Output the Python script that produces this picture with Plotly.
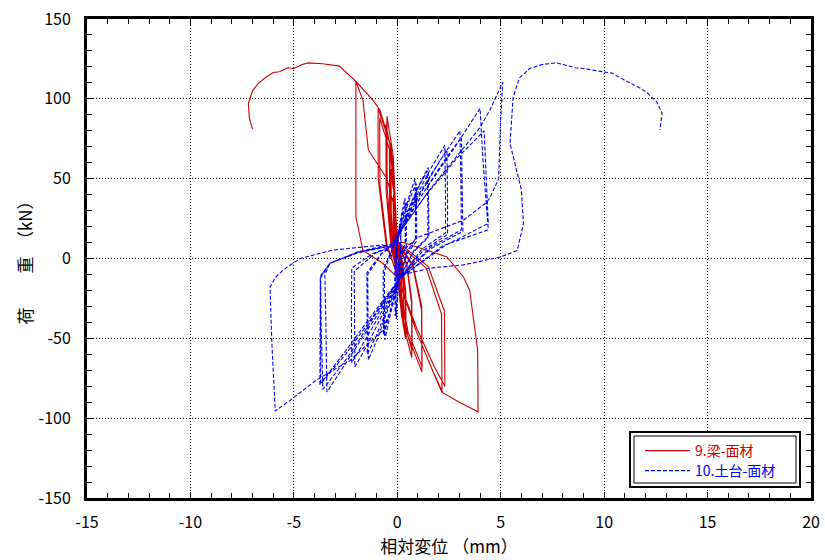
import plotly.graph_objects as go

# ---- 9.梁-面材 (red) : load-displacement hysteresis points ----
red_x = [
    0.0,
    0.0, -0.04, -0.08, -0.07, -0.03, 0.03, 0.08, 0.12, 0.11, 0.06, 0.0,
    -0.04, -0.09, -0.08, -0.03, 0.04, 0.09, 0.13, 0.12, 0.06, 0.0,
    -0.03, -0.07, -0.12, -0.11, -0.06, 0.03, 0.1, 0.2, 0.19, 0.12, 0.02,
    -0.03, -0.08, -0.13, -0.12, -0.06, 0.04, 0.11, 0.21, 0.2, 0.12, 0.01,
    -0.03, -0.1, -0.18, -0.17, -0.1, 0.03, 0.14, 0.3, 0.29, 0.18, 0.03,
    -0.03, -0.11, -0.2, -0.19, -0.11, 0.04, 0.15, 0.32, 0.31, 0.19, 0.02,
    -0.04, -0.13, -0.3, -0.29, -0.16, 0.04, 0.2, 0.4, 0.39, 0.24, 0.03,
    -0.04, -0.14, -0.32, -0.31, -0.17, 0.05, 0.21, 0.42, 0.41, 0.25, 0.02,
    -0.05, -0.15, -0.35, -0.34, -0.2, 0.05, 0.3, 0.7, 0.69, 0.45, 0.04,
    -0.05, -0.16, -0.38, -0.37, -0.21, 0.06, 0.32, 0.72, 0.7, 0.46, 0.03,
    -0.06, -0.2, -0.5, -0.49, -0.28, 0.06, 0.5, 1.19, 1.17, 0.75, 0.05,
    -0.06, -0.22, -0.55, -0.54, -0.3, 0.07, 0.52, 1.2, 1.18, 0.76, 0.04,
    -0.07, -0.3, -0.93, -0.92, -0.55, 0.08, 0.9, 1.7, 2.16, 2.14, 1.4, 0.05,
    -0.07, -0.32, -0.85, -0.84, -0.5, 0.08, 0.95, 1.8, 2.3, 2.28, 1.5, 0.05,
    -0.08, -0.3, -0.84, -1.17, -2.0, -2.0, -2.0, -1.66, -0.7, 0.1,
    0.9, 1.7, 2.2, 3.0, 3.9,
    3.9, 3.88, 3.5, 3.2, 2.4, 1.2, 0.3, 0.02,
    -0.1, -0.5, -1.0, -1.4, -1.66, -2.0, -2.8, -3.6, -4.3, -4.6,
    -5.0, -5.3, -5.7, -6.0, -6.3, -6.7, -7.0, -7.2, -7.15, -7.0,
]
red_y = [
    0,
    6, 12, 18, 9, 1, -8, -13, -17, -8, 0, 6,
    11, 17, 8, 0, -8, -12, -16, -7, 1, 7,
    12, 22, 28, 14, 3, -10, -20, -27, -13, -2, 7,
    12, 21, 27, 13, 2, -10, -19, -26, -12, -1, 8,
    15, 30, 40, 20, 4, -12, -28, -40, -18, -3, 8,
    14, 29, 38, 19, 3, -12, -27, -38, -17, -2, 9,
    18, 42, 56, 28, 5, -13, -35, -50, -22, -3, 9,
    17, 40, 53, 26, 4, -13, -34, -48, -21, -2, 10,
    22, 52, 72, 36, 6, -14, -42, -62, -28, -4, 9,
    21, 50, 68, 34, 5, -14, -40, -58, -26, -3, 10,
    25, 65, 89, 45, 8, -14, -48, -71, -32, -5, 9,
    24, 62, 84, 42, 7, -14, -46, -68, -30, -4, 10,
    26, 70, 94, 50, 10, -14, -45, -70, -84, -35, -6, 9,
    25, 66, 88, 46, 9, -14, -44, -68, -80, -33, -5, 10,
    26, 70, 93, 99, 111, 60, 26, 5, -3, -13,
    -45, -70, -84, -90, -96,
    -80, -57, -20, -11.6, 1, 6, 10, 10,
    30, 50, 60, 68, 99, 111, 120.5, 122, 122.5, 121.5,
    119, 119.5, 117, 116.5, 114, 110, 105, 97, 88, 81,
]

# ---- 10.土台-面材 (blue) ----
blue_x = [
    0.0,
    0.0, 0.07, 0.15, 0.16, 0.14, 0.08, 0.05, 0.0, -0.05, -0.06, -0.05, -0.03,
    0.07, 0.17, 0.18, 0.15, 0.08, 0.05, 0.0, -0.06, -0.07, -0.05, -0.02,
    0.0, 0.12, 0.26, 0.37, 0.39, 0.38, 0.2, 0.08, 0.04, 0.0, -0.05, -0.07, -0.07, -0.04, -0.05,
    0.0, 0.14, 0.3, 0.42, 0.44, 0.43, 0.22, 0.08, 0.02, -0.05, -0.1, -0.12, -0.12, -0.06, -0.05,
    0.0, 0.25, 0.6, 0.86, 0.88, 0.88, 0.45, 0.1, -0.15, -0.42, -0.6, -0.62, -0.62, -0.3, -0.08,
    0.0, 0.28, 0.62, 0.92, 0.94, 0.94, 0.48, 0.1, -0.18, -0.45, -0.66, -0.68, -0.68, -0.32, -0.1,
    0.05, 0.5, 1.05, 1.5, 1.53, 1.53, 0.8, 0.12, -0.4, -0.95, -1.4, -1.43, -1.43, -0.75, -0.15,
    0.05, 0.5, 1.0, 1.45, 1.48, 1.48, 0.78, 0.12, -0.45, -1.0, -1.45, -1.48, -1.47, -0.78, -0.15,
    0.1, 0.75, 1.6, 2.3, 2.33, 2.33, 1.2, 0.15, -0.6, -1.4, -2.05, -2.08, -2.08, -1.1, -0.2,
    0.1, 0.8, 1.7, 2.4, 2.43, 2.43, 1.25, 0.15, -0.65, -1.5, -2.2, -2.22, -2.2, -1.2, -0.2,
    0.1, 1.0, 2.1, 3.03, 3.08, 3.1, 1.6, 0.15, -1.0, -2.3, -3.4, -3.45, -3.5, -3.25, -1.95, -0.3,
    0.1, 1.05, 2.2, 3.1, 3.15, 3.17, 1.6, 0.15, -1.1, -2.5, -3.74, -3.74, -3.72, -3.6, -3.25, -1.95, -0.3,
    0.1, 1.3, 2.8, 4.0, 4.15, 4.3, 4.4, 2.2, 0.15, -1.1, -2.4, -3.6, -3.68, -3.7, -3.25, -1.9, -0.3,
    0.1, 1.4, 2.9, 4.2, 4.3, 4.4, 2.3, 0.15, -1.2, -2.5, -3.7, -3.72, -3.72, -3.25, -1.95, -0.3,
    0.1, 1.5, 3.0, 4.0, 4.48, 5.1, 5.0, 4.95, 4.9, 4.48, 4.3, 3.2, 0.95, 0.2,
    0.1, -0.2, -0.7, -2.3, -3.9, -5.2, -5.9, -6.07, -6.15, -5.9, -5.5, -4.7, -3.1, -0.7,
    0.1, 0.3, 1.6, 3.2, 5.0, 5.8, 6.1, 6.0, 5.45, 5.6, 5.9, 6.4, 7.0, 7.7,
    8.2, 8.6, 9.0, 9.5, 9.9, 10.4, 10.8, 11.2, 11.7, 12.06, 12.55, 12.8, 12.75, 12.7,
]
blue_y = [
    0,
    10, 16, 22, 12, 4, 0, -10, -16, -22, -12, -2, 6,
    14, 20, 11, 3, -1, -10, -15, -20, -10, -1, 7,
    12, 22, 31, 38, 22, 10, 2, -10, -20, -30, -38, -20, -6, 4, 9,
    12, 22, 30, 35, 20, 8, 1, -11, -22, -30, -36, -18, -5, 5, 10,
    13, 25, 40, 50, 28, 12, 4, -12, -25, -40, -51, -25, -8, 4, 10,
    13, 25, 38, 47, 26, 11, 3, -12, -24, -38, -48, -24, -7, 4, 10,
    14, 30, 46, 57, 32, 14, 5, -12, -30, -50, -63.5, -32, -10, 3, 9,
    14, 29, 44, 55, 30, 13, 4, -12, -30, -48, -60, -30, -9, 3, 9,
    15, 35, 56, 71, 40, 16, 6, -12, -32, -53, -68, -35, -8, 3, 8,
    15, 35, 54, 68, 38, 15, 5, -12, -31, -50, -65.4, -34, -6, 3, 8,
    15, 38, 62, 80, 45, 18, 7, -12, -36, -62, -83.6, -42, -10, -3, 3.4, 8,
    15, 37, 60, 76, 42, 17, 6, -12, -35, -60, -79, -40, -12, -9, -3, 3.4, 8,
    16, 42, 70, 94, 60, 35, 18, 8, -12, -36, -62, -82, -42, -12, -3, 4, 8,
    16, 40, 63, 80, 50, 22, 8, -12, -35, -58, -78, -40, -11, -3, 4, 9,
    16, 42, 66, 82, 93, 110.5, 88, 62, 50, 38, 35, 24, 13, 4,
    -12, -28, -45, -64, -76, -89, -95.5, -51, -18, -12, -7, 0, 5.3, 8.5,
    -4, -10, -6, -4, 1, 5, 22, 43, 72, 101, 113, 119, 121.5, 122.5,
    121, 119.5, 119, 118, 117, 116, 113, 110.5, 107, 104, 98, 91, 85, 80.5,
]

x_ticks = [-15, -10, -5, 0, 5, 10, 15, 20]
y_ticks = [-150, -100, -50, 0, 50, 100, 150]
red_name = "9.梁-面材"
blue_name = "10.土台-面材"
x_title = "相対変位 （mm）"
y_title = "荷　　重　（kN）"

RED = "#cc0000"
BLUE = "#0000ee"
FONT = "Noto Sans CJK JP"

# plot area in pixels
L, R, T, B = 87, 811, 19, 498
W, H = 825, 560


def px_x(p):
    return (p - L) / (R - L)


def px_y(p):
    return (B - p) / (B - T)


fig = go.Figure()
fig.add_trace(go.Scatter(
    x=red_x, y=red_y, mode="lines",
    name=f'<span style="color:{RED}">{red_name}</span>',
    line=dict(color=RED, width=1.1),
    legend="legend",
))
fig.add_trace(go.Scatter(
    x=blue_x, y=blue_y, mode="lines",
    name=f'<span style="color:{BLUE}">{blue_name}</span>',
    line=dict(color=BLUE, width=1.1, dash="4px,2px"),
    legend="legend2",
))

axis_common = dict(
    showgrid=True, gridcolor="black", gridwidth=1, griddash="1px,2px",
    zeroline=False, showline=True, linecolor="black", linewidth=3,
    mirror="allticks", ticks="inside", ticklen=6, tickcolor="black", tickwidth=1,
    tickfont=dict(family=FONT, size=16, color="black"),
    automargin=False,
)

legend_common = dict(xanchor="left", yanchor="top", bgcolor="rgba(0,0,0,0)", borderwidth=0,
                     font=dict(family=FONT, size=14), itemwidth=45)

fig.update_layout(
    width=W, height=H,
    margin=dict(l=L, r=W - R, t=T, b=H - B),
    plot_bgcolor="white", paper_bgcolor="white",
    font=dict(family=FONT, size=15, color="black"),
    xaxis=dict(range=[-15, 20], tickvals=x_ticks, ticktext=[str(v) for v in x_ticks],
               minor=dict(ticks="inside", dtick=1, tick0=-15, ticklen=5, tickcolor="black", showgrid=False),
               ticklabelstandoff=8,
               title=dict(text=x_title, font=dict(family=FONT, size=17), standoff=8),
               **axis_common),
    yaxis=dict(range=[-150, 150], tickvals=y_ticks, ticktext=[str(v) for v in y_ticks],
               minor=dict(ticks="inside", dtick=10, tick0=-150, ticklen=5, tickcolor="black", showgrid=False),
               ticklabelstandoff=10,
               title=dict(text=y_title, font=dict(family=FONT, size=17), standoff=2),
               **axis_common),
    legend=dict(x=px_x(640), y=px_y(435), **legend_common),
    legend2=dict(x=px_x(640), y=px_y(455), **legend_common),
    showlegend=True,
)
# double-line legend frame
fig.add_shape(type="rect", xref="paper", yref="paper",
              x0=px_x(630), x1=px_x(800), y0=px_y(487), y1=px_y(432),
              line=dict(color="black", width=2), fillcolor="white", layer="above")
fig.add_shape(type="rect", xref="paper", yref="paper",
              x0=px_x(634), x1=px_x(796), y0=px_y(483), y1=px_y(436),
              line=dict(color="black", width=1), fillcolor="rgba(0,0,0,0)", layer="above")

fig.write_html("out.html")
